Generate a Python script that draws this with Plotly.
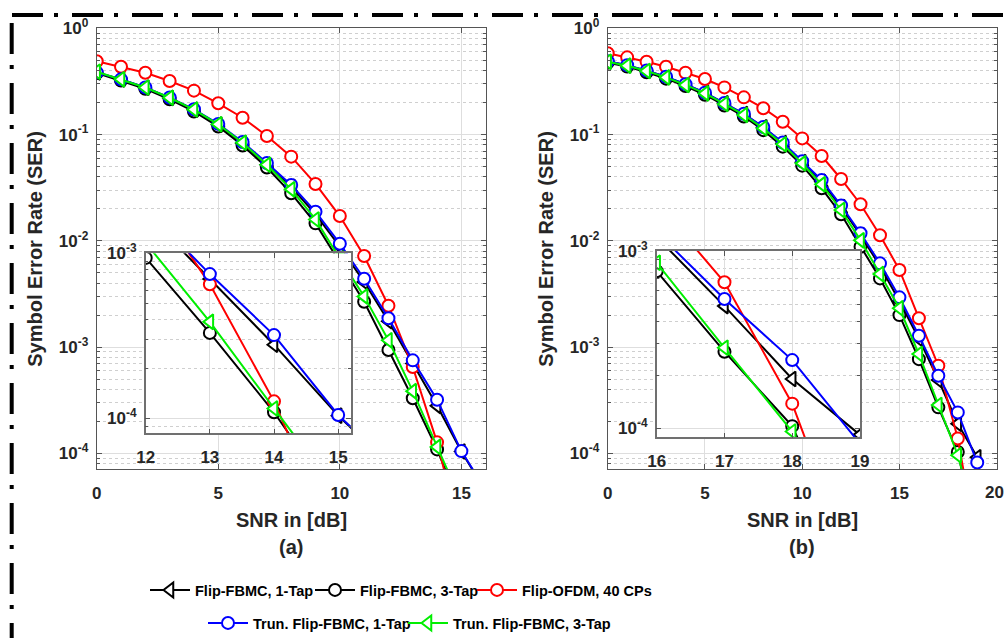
import plotly.graph_objects as go

# ---------------- data ----------------
# (a) SER versus SNR
snr_a = list(range(0, 17))
a_flip_1tap = [0.385, 0.330, 0.276, 0.221, 0.171, 0.124, 0.083, 0.052, 0.0322, 0.0178,
               0.0088, 0.0041, 0.00175, 7.0e-4, 2.8e-4, 1.04e-4, 4.4e-5]
a_flip_3tap = [0.380, 0.323, 0.270, 0.215, 0.165, 0.119, 0.079, 0.049, 0.028, 0.0146,
               0.0063, 0.00267, 9.4e-4, 3.3e-4, 1.09e-4, 3.0e-5]
a_ofdm = [0.490, 0.435, 0.382, 0.319, 0.259, 0.197, 0.144, 0.097, 0.062, 0.0343,
          0.0171, 0.0072, 0.00245, 6.5e-4, 1.27e-4, 1.6e-5]
a_trun_1tap = [0.385, 0.331, 0.278, 0.223, 0.173, 0.126, 0.085, 0.054, 0.0335, 0.0188,
               0.0094, 0.0044, 0.00187, 7.5e-4, 3.2e-4, 1.05e-4, 4.5e-5]
a_trun_3tap = [0.390, 0.331, 0.277, 0.222, 0.172, 0.125, 0.0838, 0.052, 0.0305, 0.0159,
               0.0068, 0.0030, 0.00116, 3.85e-4, 1.15e-4, 3.5e-5]

# (b) SER versus SNR
snr_b = list(range(0, 20))
b_flip_1tap = [0.490, 0.448, 0.399, 0.349, 0.297, 0.247, 0.197, 0.156, 0.117, 0.083,
               0.055, 0.0360, 0.0208, 0.0113, 0.0058, 0.0027, 0.00120, 4.9e-4, 1.9e-4, 9.2e-5]
b_flip_3tap = [0.475, 0.436, 0.386, 0.336, 0.286, 0.237, 0.188, 0.148, 0.110, 0.077,
               0.051, 0.0312, 0.0178, 0.0088, 0.00443, 0.0020, 7.7e-4, 2.71e-4, 1.03e-4, 1.5e-5]
b_ofdm = [0.582, 0.533, 0.485, 0.435, 0.382, 0.333, 0.278, 0.224, 0.177, 0.132,
          0.092, 0.0628, 0.0382, 0.0221, 0.0113, 0.00532, 0.00187, 6.68e-4, 1.38e-4, 1.3e-5]
b_trun_1tap = [0.490, 0.450, 0.400, 0.350, 0.298, 0.248, 0.198, 0.157, 0.118, 0.084,
               0.056, 0.0373, 0.0215, 0.0118, 0.00614, 0.00294, 0.00128, 5.37e-4, 2.43e-4, 8.2e-5]
b_trun_3tap = [0.485, 0.445, 0.396, 0.345, 0.293, 0.244, 0.194, 0.153, 0.1145, 0.081,
               0.0536, 0.0340, 0.0195, 0.0101, 0.00487, 0.00232, 8.6e-4, 2.85e-4, 9.6e-5, 2.1e-5]

series_names = ["Flip-FBMC, 1-Tap", "Flip-FBMC, 3-Tap", "Flip-OFDM, 40 CPs",
                "Trun. Flip-FBMC, 1-Tap", "Trun. Flip-FBMC, 3-Tap"]
series_colors = ["#000000", "#000000", "#ff0000", "#0000ff", "#00ee00"]
series_symbols = ["triangle-left", "circle", "circle", "circle", "triangle-left"]

main_xticks_a = [0, 5, 10, 15]
main_xticks_b = [0, 5, 10, 15, 20]
inset_xticks_a = [12, 13, 14, 15]
inset_xticks_b = [16, 17, 18, 19]
main_yticks = [1e-4, 1e-3, 1e-2, 1e-1, 1]
main_ylabels = ["10<sup>-4</sup>", "10<sup>-3</sup>", "10<sup>-2</sup>", "10<sup>-1</sup>", "10<sup>0</sup>"]
inset_yticks = [1e-4, 1e-3]
inset_ylabels = ["10<sup>-4</sup>", "10<sup>-3</sup>"]

W, H = 1006, 638


def px_x(p):
    return p / W


def px_y(p):
    return 1 - p / H


FONT = "Liberation Sans, Arial, sans-serif"
AX_COLOR = "#555555"
GRID = "#dedede"

fig = go.Figure()

panel_a = [a_flip_1tap, a_flip_3tap, a_ofdm, a_trun_1tap, a_trun_3tap]
panel_b = [b_flip_1tap, b_flip_3tap, b_ofdm, b_trun_1tap, b_trun_3tap]


def add_series(xs, ys_list, xa, ya, legend_on):
    for i, ys in enumerate(ys_list):
        sym = series_symbols[i]
        fig.add_trace(go.Scatter(
            x=xs[:len(ys)], y=ys, xaxis=xa, yaxis=ya,
            mode="lines+markers", name=series_names[i],
            line=dict(color=series_colors[i], width=2),
            marker=dict(symbol=sym, size=13 if sym.startswith("triangle") else 12,
                        color="white", line=dict(color=series_colors[i], width=2)),
            showlegend=legend_on,
            legend=("legend" if i == 0 else f"legend{i + 1}"),
            cliponaxis=True,
        ))


add_series(snr_a, panel_a, "x", "y", True)
add_series(snr_b, panel_b, "x2", "y2", False)
add_series(snr_a, panel_a, "x3", "y3", False)
add_series(snr_b, panel_b, "x4", "y4", False)

tickfont = dict(family=FONT, size=17, color="#262626", weight="bold")


def xaxis_cfg(dom, rng, ticks, labels=None, standoff=8):
    if labels is None:
        labels = [str(t) for t in ticks]
    return dict(domain=dom, range=rng, tickvals=ticks, ticktext=labels,
                showgrid=True, gridcolor=GRID, gridwidth=1, zeroline=False,
                showline=True, linecolor=AX_COLOR, linewidth=1, mirror="ticks",
                ticks="inside", ticklen=5, tickcolor=AX_COLOR,
                tickfont=tickfont, ticklabelstandoff=standoff)


def yaxis_cfg(dom, rng, ticks, labels):
    return dict(domain=dom, type="log", range=rng, tickvals=ticks, ticktext=labels,
                showgrid=True, gridcolor=GRID, gridwidth=1, zeroline=False,
                showline=True, linecolor=AX_COLOR, linewidth=1, mirror="ticks",
                ticks="inside", ticklen=5, tickcolor=AX_COLOR,
                tickfont=tickfont, ticklabelstandoff=4,
                minor=dict(dtick="D1", showgrid=True, gridcolor="#cfcfcf", griddash="dot",
                           gridwidth=1, ticks="inside", ticklen=3, tickcolor=AX_COLOR))


# the last label of panel (b) sits on the page edge, so it is written as an annotation
labels_b = [str(t) for t in main_xticks_b[:-1]] + [""]

main_ydom = [px_y(469.3), px_y(28.3)]
fig.update_layout(
    xaxis=xaxis_cfg([px_x(96.7), px_x(485.7)], [0, 16], main_xticks_a),
    yaxis=dict(yaxis_cfg(main_ydom, [-4.15, 0], main_yticks, main_ylabels), anchor="x"),
    xaxis2=dict(xaxis_cfg([px_x(607.7), px_x(996.7)], [0, 20], main_xticks_b, labels_b), anchor="y2"),
    yaxis2=dict(yaxis_cfg(main_ydom, [-4.15, 0], main_yticks, main_ylabels), anchor="x2"),
    xaxis3=dict(xaxis_cfg([px_x(145.7), px_x(351)], [12, 15.2], inset_xticks_a), anchor="y3"),
    yaxis3=dict(yaxis_cfg([px_y(433.3), px_y(253.3)], [-4.09, -2.999], inset_yticks, inset_ylabels), anchor="x3"),
    xaxis4=dict(xaxis_cfg([px_x(656.7), px_x(860)], [16, 19], inset_xticks_b), anchor="y4"),
    yaxis4=dict(yaxis_cfg([px_y(437.3), px_y(251)], [-4.05, -2.999], inset_yticks, inset_ylabels), anchor="x4"),
)
for ax in ["xaxis3", "yaxis3", "xaxis4", "yaxis4"]:
    fig.layout[ax].linecolor = "#707070"
    fig.layout[ax].linewidth = 1.5

title_font = dict(family=FONT, size=20, color="#262626", weight="bold")
annots = [dict(x=1.0, y=px_y(492.5), xref="paper", yref="paper",
               text=str(main_xticks_b[-1]), showarrow=False, font=tickfont,
               xanchor="right", yanchor="middle")]
for xc, lab in [((96.7 + 485.7) / 2, "(a)"), ((607.7 + 996.7) / 2, "(b)")]:
    annots.append(dict(x=px_x(xc), y=px_y(520), xref="paper", yref="paper", text="SNR in [dB]",
                       showarrow=False, font=title_font, xanchor="center", yanchor="middle"))
    annots.append(dict(x=px_x(xc), y=px_y(547), xref="paper", yref="paper", text=lab,
                       showarrow=False, font=title_font, xanchor="center", yanchor="middle"))
for xc in [35, 546]:
    annots.append(dict(x=px_x(xc), y=px_y(248.8), xref="paper", yref="paper",
                       text="Symbol Error Rate (SER)", textangle=-90, showarrow=False,
                       font=title_font, xanchor="center", yanchor="middle"))

legend_font = dict(family=FONT, size=14.5, color="#000000", weight="bold")
legend_pos = [(145, 590), (310, 590), (472, 590), (203, 623), (403, 623)]
legends = {}
for i, (lx, ly) in enumerate(legend_pos):
    key = "legend" if i == 0 else f"legend{i + 1}"
    legends[key] = dict(x=px_x(lx), y=px_y(ly), xanchor="left", yanchor="middle",
                        orientation="h", font=legend_font, itemwidth=40,
                        bgcolor="rgba(0,0,0,0)", borderwidth=0, tracegroupgap=0,
                        itemclick=False)

frame = dict(color="#000000", width=4, dash="31px,11px,4px,14px")
shapes = [
    dict(type="line", xref="paper", yref="paper", x0=px_x(12), x1=1.0,
         y0=px_y(15), y1=px_y(15), line=frame),
    dict(type="line", xref="paper", yref="paper", x0=px_x(11.7), x1=px_x(11.7),
         y0=px_y(23), y1=0.0, line=frame),
]

fig.update_layout(
    width=W, height=H, margin=dict(l=0, r=0, t=0, b=0, autoexpand=False),
    paper_bgcolor="white", plot_bgcolor="white",
    font=dict(family=FONT, color="#262626"),
    annotations=annots, shapes=shapes, **legends,
)

fig.write_html("out.html")
